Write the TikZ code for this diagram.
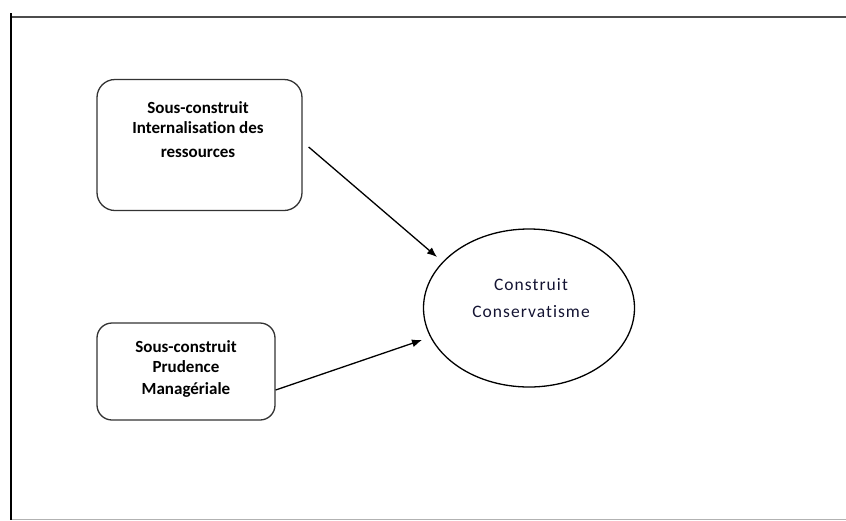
\documentclass[tikz,border=0pt]{standalone}
\usepackage{fontspec}
\setmainfont[Ligatures=NoCommon]{Carlito}
\newfontfamily\spacedfont[LetterSpace=6,Ligatures=NoCommon]{Carlito}
\usetikzlibrary{arrows.meta,shapes.geometric}
\definecolor{framegray}{gray}{0.3}
\definecolor{boxgray}{gray}{0.2}
\definecolor{inktext}{rgb}{0.08,0.08,0.2}
\tikzset{
  boxshape/.style={draw=boxgray, line width=1.3pt, rounded corners=18pt, inner sep=0pt},
  boxtext/.style={align=center, font=\fontsize{17}{20.5}\selectfont\bfseries, text=black, inner sep=0pt},
  ellshape/.style={draw=black, line width=1.3pt, ellipse, inner sep=0pt, minimum width=211pt, minimum height=158pt},
  elltext/.style={align=center, font=\fontsize{17.5}{27}\selectfont\spacedfont, text=inktext, inner sep=0pt},
  arr/.style={draw=black, line width=1.3pt, -{Latex[length=10pt,width=8pt]}},
}
\begin{document}
\begin{tikzpicture}[x=1pt,y=-1pt]
\useasboundingbox (0,0) rectangle (846,520);
% frame
\coordinate (ftl) at (11,17);
\coordinate (ftr) at (846,17);
\coordinate (fbl) at (11,519.5);
\coordinate (fbr) at (846,519.5);
\coordinate (ftop) at (11,13);
\coordinate (fbot) at (11,520);
\draw[framegray, line width=2.5pt] (ftl) -- (ftr);
\draw[gray!60, line width=1.5pt] (fbl) -- (fbr);
\draw[black, line width=2.5pt] (ftop) -- (fbot);
% box 1
\node[boxshape, minimum width=205pt, minimum height=131pt] (b1) at (199.5,145) {};
\node[boxtext] (b1t) at (198,129.5) {Sous-construit\\Internalisation des\\[3pt]ressources};
% box 2
\node[boxshape, rounded corners=15pt, minimum width=178pt, minimum height=97pt] (b2) at (186,371.5) {};
\node[boxtext] (b2t) at (186,369) {Sous-construit\\Prudence\\[1.5pt]Managériale};
% ellipse
\node[ellshape] (ell) at (529,308) {};
\node[elltext] (ellt) at (531,298) {Construit\\Conservatisme};
% arrows
\draw[arr] ([shift={(6,2)}]b1.east) -- ([shift={(-92,-51)}]ell.center);
\draw[arr] ([shift={(0,18.5)}]b2.east) -- ([shift={(-107,32)}]ell.center);
\end{tikzpicture}
\end{document}
